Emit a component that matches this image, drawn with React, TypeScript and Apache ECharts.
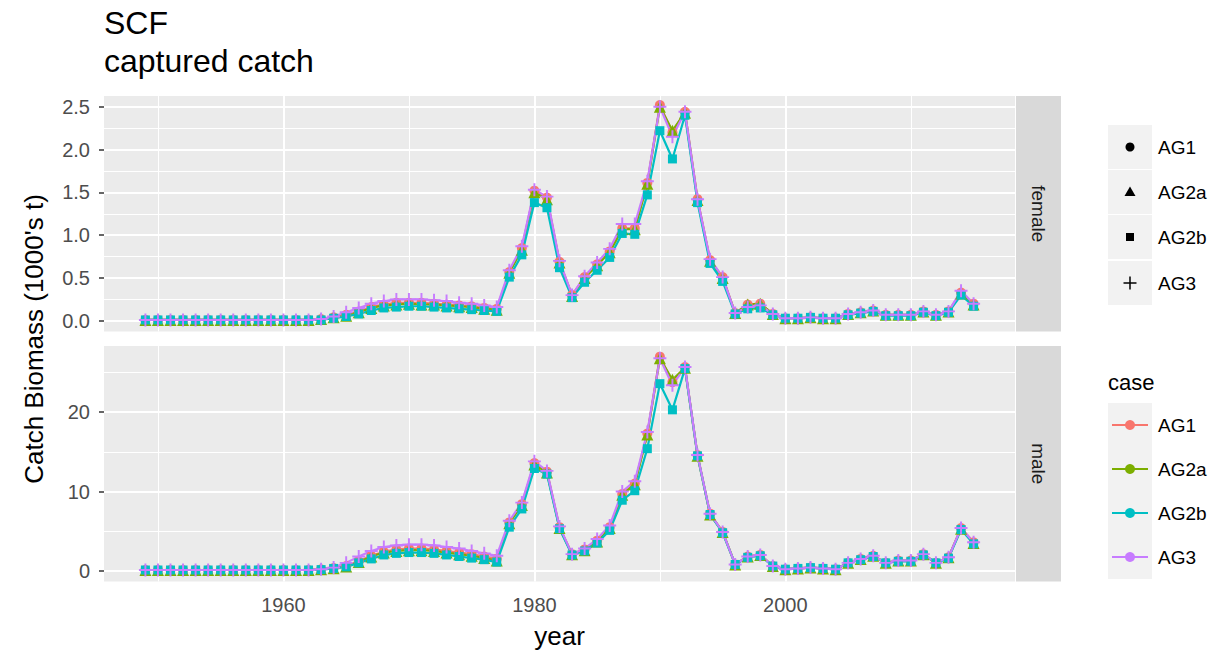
import React, { useEffect, useRef } from "react";
import * as echarts from "echarts";

const years = [
  1949, 1950, 1951, 1952, 1953, 1954, 1955, 1956, 1957, 1958, 1959, 1960, 1961, 1962,
  1963, 1964, 1965, 1966, 1967, 1968, 1969, 1970, 1971, 1972, 1973, 1974, 1975, 1976, 1977,
  1978, 1979, 1980, 1981, 1982, 1983, 1984, 1985, 1986, 1987, 1988, 1989, 1990, 1991, 1992,
  1993, 1994, 1995, 1996, 1997, 1998, 1999,
  2000, 2001, 2002, 2003, 2004, 2005, 2006, 2007, 2008, 2009, 2010, 2011, 2012, 2013, 2014, 2015,
];

const cases = ["AG1", "AG2a", "AG2b", "AG3"];
const caseColors = ["#F8766D", "#7CAE00", "#00BFC4", "#C77CFF"];
const panels = ["female", "male"];

const femaleAG1 = [
  0.01, 0.01, 0.01, 0.01, 0.01, 0.01, 0.01, 0.01, 0.01, 0.01, 0.01, 0.01, 0.01, 0.01,
  0.02, 0.04, 0.07, 0.11, 0.16, 0.19, 0.21, 0.21, 0.21, 0.2, 0.19, 0.18, 0.17, 0.15, 0.14,
  0.57, 0.85, 1.52, 1.44, 0.69, 0.3, 0.51, 0.66, 0.81, 1.08, 1.08, 1.61, 2.52, 2.2, 2.44,
  1.42, 0.71, 0.51, 0.09, 0.19, 0.2, 0.08,
  0.03, 0.03, 0.04, 0.03, 0.03, 0.08, 0.1, 0.12, 0.07, 0.07, 0.07, 0.11, 0.07, 0.11, 0.33, 0.2,
];
const femaleAG2a = [
  0.01, 0.01, 0.01, 0.01, 0.01, 0.01, 0.01, 0.01, 0.01, 0.01, 0.01, 0.01, 0.01, 0.01,
  0.02, 0.04, 0.06, 0.1, 0.15, 0.18, 0.19, 0.2, 0.19, 0.19, 0.18, 0.17, 0.16, 0.14, 0.13,
  0.56, 0.83, 1.5, 1.42, 0.68, 0.29, 0.5, 0.65, 0.8, 1.07, 1.07, 1.6, 2.5, 2.22, 2.43,
  1.41, 0.7, 0.5, 0.09, 0.19, 0.2, 0.08,
  0.03, 0.03, 0.04, 0.03, 0.03, 0.08, 0.1, 0.12, 0.07, 0.07, 0.07, 0.11, 0.07, 0.11, 0.32, 0.19,
];
const femaleAG2b = [
  0.01, 0.01, 0.01, 0.01, 0.01, 0.01, 0.01, 0.01, 0.01, 0.01, 0.01, 0.01, 0.01, 0.01,
  0.01, 0.03, 0.05, 0.08, 0.12, 0.15, 0.16, 0.17, 0.17, 0.16, 0.15, 0.14, 0.13, 0.12, 0.11,
  0.51, 0.77, 1.38, 1.32, 0.62, 0.27, 0.45, 0.59, 0.74, 1.02, 1.01, 1.47, 2.22, 1.89, 2.4,
  1.38, 0.67, 0.46, 0.08, 0.14, 0.15, 0.07,
  0.03, 0.03, 0.04, 0.03, 0.03, 0.07, 0.09, 0.11, 0.06, 0.06, 0.06, 0.1, 0.06, 0.1, 0.3, 0.17,
];
const femaleAG3 = [
  0.01, 0.01, 0.01, 0.01, 0.01, 0.01, 0.01, 0.01, 0.01, 0.01, 0.01, 0.01, 0.01, 0.01,
  0.02, 0.05, 0.1, 0.15, 0.2, 0.23, 0.25, 0.25, 0.25, 0.24, 0.23, 0.21, 0.2, 0.18, 0.16,
  0.59, 0.87, 1.53, 1.45, 0.7, 0.3, 0.52, 0.68, 0.84, 1.13, 1.13, 1.63, 2.5, 2.15, 2.44,
  1.42, 0.72, 0.51, 0.09, 0.16, 0.18, 0.08,
  0.03, 0.03, 0.04, 0.03, 0.03, 0.08, 0.1, 0.12, 0.07, 0.07, 0.07, 0.11, 0.07, 0.11, 0.35, 0.2,
];

const maleAG1 = [
  0.1, 0.1, 0.1, 0.1, 0.1, 0.1, 0.1, 0.1, 0.1, 0.1, 0.1, 0.1, 0.1, 0.1,
  0.2, 0.35, 0.6, 1.2, 1.9, 2.4, 2.7, 2.8, 2.8, 2.7, 2.5, 2.3, 2.1, 1.8, 1.5,
  6.1, 8.4, 13.6, 12.5, 5.5, 2.1, 2.7, 3.8, 5.5, 9.7, 11.0, 17.3, 27.0, 23.8, 25.7,
  14.6, 7.2, 4.9, 0.8, 1.8, 2.0, 0.6,
  0.2, 0.3, 0.4, 0.3, 0.2, 1.0, 1.5, 1.9, 1.0, 1.3, 1.3, 2.1, 1.0, 1.7, 5.4, 3.6,
];
const maleAG2a = [
  0.1, 0.1, 0.1, 0.1, 0.1, 0.1, 0.1, 0.1, 0.1, 0.1, 0.1, 0.1, 0.1, 0.1,
  0.2, 0.33, 0.55, 1.1, 1.8, 2.3, 2.5, 2.6, 2.6, 2.5, 2.3, 2.1, 1.9, 1.6, 1.3,
  6.0, 8.3, 13.4, 12.4, 5.4, 2.1, 2.6, 3.7, 5.4, 9.6, 10.9, 17.2, 26.8, 24.1, 25.6,
  14.5, 7.1, 4.9, 0.8, 1.8, 2.0, 0.6,
  0.2, 0.3, 0.4, 0.3, 0.2, 1.0, 1.5, 1.9, 1.0, 1.3, 1.3, 2.1, 1.0, 1.7, 5.3, 3.5,
];
const maleAG2b = [
  0.1, 0.1, 0.1, 0.1, 0.1, 0.1, 0.1, 0.1, 0.1, 0.1, 0.1, 0.1, 0.1, 0.1,
  0.15, 0.3, 0.5, 1.0, 1.5, 2.0, 2.2, 2.3, 2.3, 2.2, 2.0, 1.8, 1.6, 1.4, 1.1,
  5.5, 7.8, 12.9, 12.2, 5.3, 2.0, 2.5, 3.5, 5.1, 8.9, 10.1, 15.4, 23.6, 20.3, 25.5,
  14.5, 7.1, 4.8, 0.8, 1.7, 1.9, 0.6,
  0.2, 0.3, 0.4, 0.3, 0.2, 1.0, 1.4, 1.8, 1.0, 1.2, 1.2, 2.0, 1.0, 1.6, 5.2, 3.4,
];
const maleAG3 = [
  0.1, 0.1, 0.1, 0.1, 0.1, 0.1, 0.1, 0.1, 0.1, 0.1, 0.1, 0.1, 0.1, 0.1,
  0.2, 0.4, 1.0, 1.8, 2.5, 3.0, 3.2, 3.3, 3.3, 3.2, 3.0, 2.8, 2.5, 2.2, 1.9,
  6.3, 8.6, 13.8, 12.6, 5.6, 2.1, 2.8, 4.0, 5.7, 10.0, 11.3, 17.5, 26.8, 23.4, 25.7,
  14.6, 7.2, 4.9, 0.8, 1.8, 2.0, 0.6,
  0.2, 0.3, 0.4, 0.3, 0.2, 1.0, 1.5, 1.9, 1.0, 1.3, 1.3, 2.1, 1.0, 1.7, 5.4, 3.6,
];

const xMajor = [1960, 1980, 2000];
const xMinor = [1950, 1970, 1990, 2010];
const femaleMajor = [0, 0.5, 1.0, 1.5, 2.0, 2.5];
const femaleMinor = [0.25, 0.75, 1.25, 1.75, 2.25];
const maleMajor = [0, 10, 20];
const maleMinor = [5, 15, 25];

const FONT = "'Liberation Sans', Arial, Helvetica, sans-serif";
const PLUS = "path://M4.25,0H5.75V4.25H10V5.75H5.75V10H4.25V5.75H0V4.25H4.25Z";
const symbols = ["circle", "triangle", "rect", PLUS];
const symbolSizes = [10, 12, 9, 13];

const PANEL_LEFT = 104;
const PANEL_W = 911;
const PANEL_TOPS = [96, 346];
const PANEL_H = 235.5;

export default function App() {
  const ref = useRef<HTMLDivElement>(null);

  useEffect(() => {
    if (!ref.current) return;
    const chart = echarts.init(ref.current, null, { renderer: "svg" });

    const panelData = [
      [femaleAG1, femaleAG2a, femaleAG2b, femaleAG3],
      [maleAG1, maleAG2a, maleAG2b, maleAG3],
    ];
    const yMajor = [femaleMajor, maleMajor];
    const yMinor = [femaleMinor, maleMinor];
    const yRange = [
      [-0.125, 2.625],
      [-1.35, 28.35],
    ];

    const series: any[] = [];
    panelData.forEach((pd, gi) => {
      const ml: any[] = [];
      xMinor.forEach((v) => ml.push({ xAxis: v, lineStyle: { color: "#FFFFFF", width: 1, type: "solid" } }));
      yMinor[gi].forEach((v) => ml.push({ yAxis: v, lineStyle: { color: "#FFFFFF", width: 1, type: "solid" } }));
      xMajor.forEach((v) => ml.push({ xAxis: v, lineStyle: { color: "#FFFFFF", width: 2, type: "solid" } }));
      yMajor[gi].forEach((v) => ml.push({ yAxis: v, lineStyle: { color: "#FFFFFF", width: 2, type: "solid" } }));
      series.push({
        type: "line",
        xAxisIndex: gi,
        yAxisIndex: gi,
        data: [],
        silent: true,
        z: 1,
        markLine: {
          silent: true,
          symbol: ["none", "none"],
          z: 1,
          label: { show: false },
          emphasis: { disabled: true },
          data: ml,
        },
      });
      cases.forEach((c, i) => {
        series.push({
          type: "line",
          name: c,
          xAxisIndex: gi,
          yAxisIndex: gi,
          data: years.map((y, k) => [y, pd[i][k]]),
          showSymbol: false,
          symbol: "none",
          lineStyle: { color: caseColors[i], width: 2.2 },
          z: 2,
          silent: true,
        });
      });
      cases.forEach((c, i) => {
        series.push({
          type: "scatter",
          name: c,
          xAxisIndex: gi,
          yAxisIndex: gi,
          data: years.map((y, k) => [y, pd[i][k]]),
          symbol: symbols[i],
          symbolSize: symbolSizes[i],
          itemStyle: { color: caseColors[i], opacity: 1 },
          z: 3 + i * 0.01,
          silent: true,
        });
      });
    });

    const graphic: any[] = [];
    graphic.push({
      type: "text",
      x: 104,
      y: 23,
      style: { text: "SCF", fontSize: 32, fontFamily: FONT, fill: "#000", align: "left", verticalAlign: "middle" },
    });
    graphic.push({
      type: "text",
      x: 104,
      y: 61,
      style: { text: "captured catch", fontSize: 32, fontFamily: FONT, fill: "#000", align: "left", verticalAlign: "middle" },
    });
    graphic.push({
      type: "text",
      x: 34,
      y: 339,
      rotation: Math.PI / 2,
      style: {
        text: "Catch Biomass (1000's t)",
        fontSize: 26,
        fontFamily: FONT,
        fill: "#000",
        align: "center",
        verticalAlign: "middle",
      },
    });
    graphic.push({
      type: "text",
      x: PANEL_LEFT + PANEL_W / 2,
      y: 636,
      style: { text: "year", fontSize: 26, fontFamily: FONT, fill: "#000", align: "center", verticalAlign: "middle" },
    });
    panels.forEach((p, gi) => {
      graphic.push({
        type: "rect",
        shape: { x: PANEL_LEFT + PANEL_W + 1, y: PANEL_TOPS[gi], width: 45, height: PANEL_H },
        style: { fill: "#D9D9D9" },
      });
      graphic.push({
        type: "text",
        x: PANEL_LEFT + PANEL_W + 1 + 22.5,
        y: PANEL_TOPS[gi] + PANEL_H / 2,
        rotation: -Math.PI / 2,
        style: { text: p, fontSize: 19, fontFamily: FONT, fill: "#1A1A1A", align: "center", verticalAlign: "middle" },
      });
    });
    const shapeCenters = [147, 192, 237, 283];
    const kx = 1108;
    const ks = 44;
    const kcx = kx + ks / 2;
    shapeCenters.forEach((cy, i) => {
      graphic.push({
        type: "rect",
        shape: { x: kx, y: cy - ks / 2, width: ks, height: ks },
        style: { fill: "#F2F2F2" },
      });
      graphic.push({
        type: "text",
        x: 1158,
        y: cy,
        style: { text: cases[i], fontSize: 19, fontFamily: FONT, fill: "#000", align: "left", verticalAlign: "middle" },
      });
    });
    graphic.push({ type: "circle", shape: { cx: kcx, cy: shapeCenters[0], r: 4.5 }, style: { fill: "#000" } });
    graphic.push({
      type: "polygon",
      shape: { points: [[kcx, shapeCenters[1] - 5.5], [kcx + 5.5, shapeCenters[1] + 4], [kcx - 5.5, shapeCenters[1] + 4]] },
      style: { fill: "#000" },
    });
    graphic.push({ type: "rect", shape: { x: kcx - 4, y: shapeCenters[2] - 4, width: 8, height: 8 }, style: { fill: "#000" } });
    graphic.push({
      type: "line",
      shape: { x1: kcx - 6.5, y1: shapeCenters[3], x2: kcx + 6.5, y2: shapeCenters[3] },
      style: { stroke: "#000", lineWidth: 1.5 },
    });
    graphic.push({
      type: "line",
      shape: { x1: kcx, y1: shapeCenters[3] - 6.5, x2: kcx, y2: shapeCenters[3] + 6.5 },
      style: { stroke: "#000", lineWidth: 1.5 },
    });
    graphic.push({
      type: "text",
      x: 1108,
      y: 382,
      style: { text: "case", fontSize: 22, fontFamily: FONT, fill: "#000", align: "left", verticalAlign: "middle" },
    });
    const caseCenters = [425, 469, 513, 557];
    caseCenters.forEach((cy, i) => {
      graphic.push({
        type: "rect",
        shape: { x: kx, y: cy - ks / 2, width: ks, height: ks },
        style: { fill: "#F2F2F2" },
      });
      graphic.push({
        type: "line",
        shape: { x1: kx + 4, y1: cy, x2: kx + ks - 4, y2: cy },
        style: { stroke: caseColors[i], lineWidth: 2.2 },
      });
      graphic.push({ type: "circle", shape: { cx: kcx, cy, r: 5 }, style: { fill: caseColors[i] } });
      graphic.push({
        type: "text",
        x: 1158,
        y: cy,
        style: { text: cases[i], fontSize: 19, fontFamily: FONT, fill: "#000", align: "left", verticalAlign: "middle" },
      });
    });

    const tickStyle = { length: 5, lineStyle: { color: "#333333", width: 1.5 } };
    const labelStyle = { fontSize: 20, color: "#4D4D4D", fontFamily: FONT };

    const option: any = {
      animation: false,
      backgroundColor: "#FFFFFF",
      grid: PANEL_TOPS.map((t) => ({
        left: PANEL_LEFT,
        top: t,
        width: PANEL_W,
        height: PANEL_H,
        show: true,
        backgroundColor: "#EBEBEB",
        borderWidth: 0,
      })),
      xAxis: [
        {
          gridIndex: 0,
          type: "value",
          min: 1945.7,
          max: 2018.3,
          axisLine: { show: false },
          axisTick: { show: false },
          axisLabel: { show: false },
          splitLine: { show: false },
        },
        {
          gridIndex: 1,
          type: "value",
          min: 1945.7,
          max: 2018.3,
          axisLine: { show: false },
          axisTick: { show: true, ...tickStyle, customValues: xMajor },
          axisLabel: { show: true, ...labelStyle, margin: 13, customValues: xMajor, formatter: (v: number) => String(v) },
          splitLine: { show: false },
        },
      ],
      yAxis: [0, 1].map((gi) => ({
        gridIndex: gi,
        type: "value",
        min: yRange[gi][0],
        max: yRange[gi][1],
        axisLine: { show: false },
        axisTick: { show: true, ...tickStyle, customValues: yMajor[gi] },
        axisLabel: {
          show: true,
          ...labelStyle,
          margin: 14,
          customValues: yMajor[gi],
          formatter: (v: number) => (gi === 0 ? v.toFixed(1) : String(v)),
        },
        splitLine: { show: false },
      })),
      series,
      graphic,
    };

    chart.setOption(option);
    return () => {
      chart.dispose();
    };
  }, []);

  return (
    <div
      ref={ref}
      style={{ position: "fixed", left: 0, top: 0, width: 1230, height: 658, background: "#fff" }}
    />
  );
}
